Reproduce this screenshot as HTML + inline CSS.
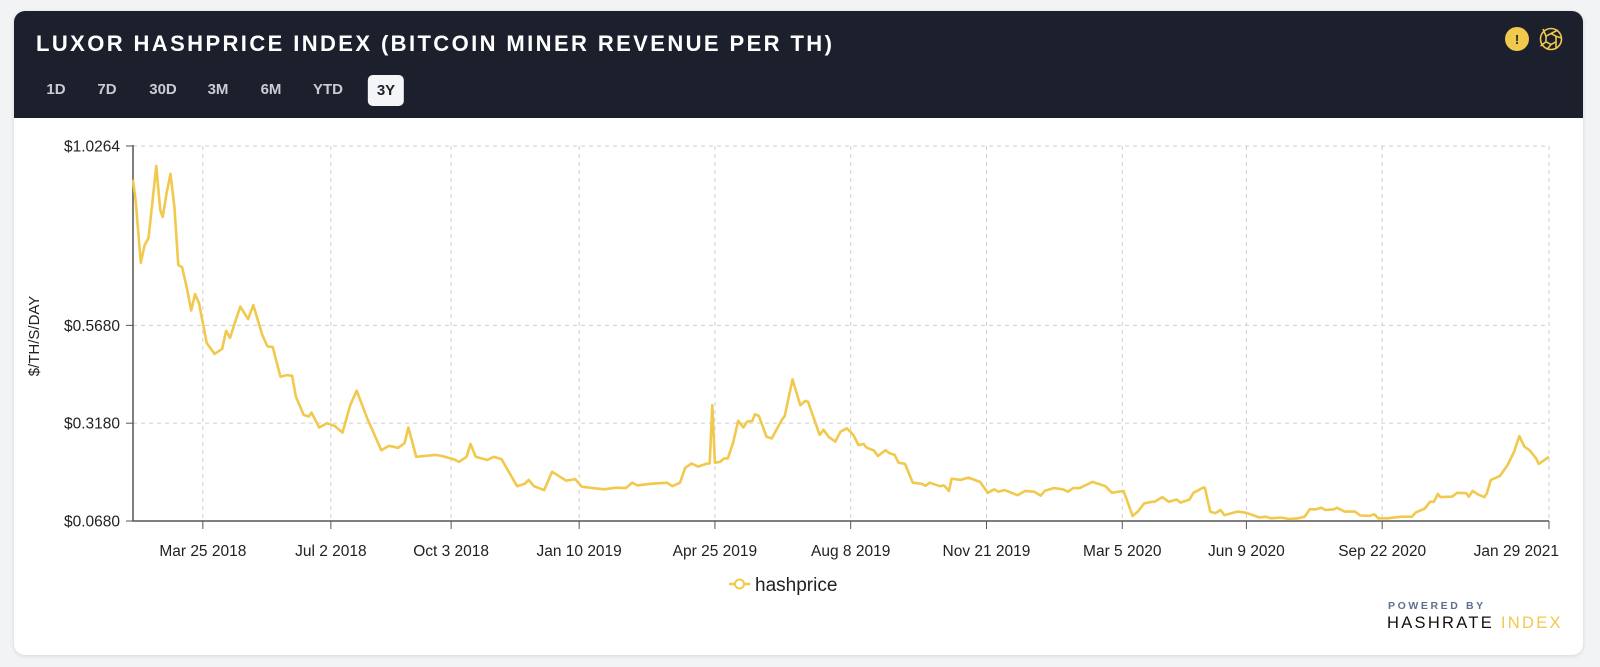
<!DOCTYPE html>
<html><head><meta charset="utf-8">
<style>
body{margin:0;width:1600px;height:667px;background:#f2f3f5;font-family:"Liberation Sans",sans-serif;overflow:hidden;position:relative}
.card{position:absolute;left:14px;top:11px;width:1569px;height:644px;background:#fff;border-radius:11px;box-shadow:0 1px 4px rgba(0,0,0,.12);overflow:hidden}
.hdr{position:absolute;left:0;top:0;width:1569px;height:107px;background:#1b202c}
.title{position:absolute;left:22px;top:20px;color:#fff;font-weight:bold;font-size:22px;letter-spacing:2.4px;white-space:nowrap}
.btn{position:absolute;top:70px;color:#c9cdd6;font-weight:bold;font-size:15px;transform:translateX(-50%)}
.btn.on{background:#f4f5f7;color:#1b202c;border-radius:5px;padding:7px 9px;top:64px}
</style></head><body>
<div class="card">
 <div class="hdr">
  <div class="title">LUXOR HASHPRICE INDEX (BITCOIN MINER REVENUE PER TH)</div>
  <div class="btn" style="left:42px">1D</div>
  <div class="btn" style="left:93px">7D</div>
  <div class="btn" style="left:149px">30D</div>
  <div class="btn" style="left:204px">3M</div>
  <div class="btn" style="left:257px">6M</div>
  <div class="btn" style="left:314px">YTD</div>
  <div class="btn on" style="left:372px">3Y</div>
  <svg style="position:absolute;left:1489px;top:14px" width="76" height="30">
   <g><circle cx="14" cy="14" r="12" fill="#f0c94d"/><text x="14" y="19" text-anchor="middle" font-size="13" font-weight="bold" fill="#1b202c" font-family="Liberation Sans">!</text></g>
   <g fill="none" stroke="#f0c94d" stroke-width="1.6"><circle cx="48" cy="14" r="10.5"/><polygon points="48,8.5 53,11.2 53,16.8 48,19.5 43,16.8 43,11.2"/><line x1="48" y1="8.5" x2="55" y2="5"/><line x1="53" y1="16.8" x2="53" y2="24"/><line x1="43" y1="16.8" x2="37.5" y2="21"/><line x1="43" y1="11.2" x2="40" y2="4"/><line x1="53" y1="11.2" x2="58.5" y2="13"/><line x1="48" y1="19.5" x2="44" y2="24.5"/></g>
  </svg>
 </div>
</div>
<svg id="chart" width="1600" height="667" style="position:absolute;left:0;top:0"></svg>
<div style="position:absolute;left:1388px;top:600px;font-size:10.5px;letter-spacing:2.6px;color:#5f6f8e;font-weight:bold">POWERED BY</div>
<div style="position:absolute;left:1387px;top:614px;font-size:16.5px;letter-spacing:2.3px;color:#111;white-space:nowrap">HASHRATE <span style="color:#f0c94d">INDEX</span></div>
<script>
const days=[0,2,6,9,12,18,21,23,26,29,32,35,38,42,45,48,51,57,63,69,72,75,79,83,89,93,100,104,108,114,119,123,126,132,136,138,144,150,156,162,168,173,181,192,198,205,210,213,219,225,234,239,248,252,258,261,265,274,279,285,289,297,303,306,310,318,324,335,342,347,353,364,374,381,386,390,400,413,417,423,427,432,437,444,446,448,450,454,457,460,464,468,472,475,479,481,484,490,494,502,504,510,516,520,522,531,534,538,543,547,552,557,561,565,567,573,576,582,585,589,592,597,603,610,613,616,624,627,631,633,640,646,655,661,666,669,674,684,690,697,702,705,712,719,723,727,732,742,752,757,766,773,777,782,788,790,796,801,807,810,817,820,828,829,833,837,841,844,854,861,871,876,880,888,894,901,906,910,915,919,922,929,931,937,945,949,956,960,963,970,981,989,992,999,1003,1006,1009,1011,1020,1024,1031,1033,1036,1040,1045,1047,1050,1057,1063,1068,1072,1076,1080,1085,1087,1095];
const values=[0.940,0.888,0.728,0.773,0.791,0.975,0.863,0.845,0.906,0.955,0.871,0.722,0.717,0.658,0.606,0.648,0.625,0.523,0.495,0.508,0.554,0.536,0.577,0.616,0.584,0.620,0.543,0.514,0.513,0.437,0.441,0.439,0.386,0.339,0.335,0.345,0.307,0.318,0.311,0.294,0.364,0.401,0.331,0.249,0.260,0.255,0.267,0.307,0.232,0.234,0.237,0.234,0.226,0.219,0.232,0.265,0.232,0.224,0.232,0.226,0.203,0.157,0.163,0.173,0.157,0.147,0.194,0.171,0.175,0.156,0.153,0.149,0.153,0.152,0.166,0.159,0.163,0.166,0.157,0.166,0.204,0.215,0.207,0.215,0.215,0.364,0.217,0.219,0.228,0.228,0.267,0.324,0.307,0.322,0.324,0.341,0.336,0.283,0.279,0.328,0.336,0.430,0.364,0.375,0.373,0.288,0.301,0.283,0.271,0.296,0.305,0.288,0.262,0.265,0.256,0.248,0.234,0.249,0.241,0.237,0.217,0.214,0.166,0.163,0.158,0.166,0.157,0.159,0.145,0.176,0.173,0.179,0.168,0.140,0.149,0.143,0.147,0.134,0.145,0.143,0.133,0.145,0.152,0.149,0.143,0.152,0.152,0.168,0.157,0.140,0.145,0.081,0.092,0.113,0.117,0.117,0.129,0.117,0.123,0.115,0.123,0.140,0.154,0.152,0.092,0.088,0.096,0.083,0.092,0.089,0.077,0.079,0.075,0.077,0.073,0.075,0.079,0.098,0.098,0.102,0.096,0.098,0.102,0.092,0.092,0.082,0.081,0.085,0.075,0.075,0.079,0.079,0.090,0.100,0.117,0.117,0.137,0.129,0.130,0.140,0.139,0.130,0.145,0.136,0.129,0.139,0.173,0.183,0.211,0.245,0.285,0.258,0.249,0.228,0.214,0.232];
const yTicks=[0.068,0.318,0.568,1.0264];
const yTickLabels=["$0.0680","$0.3180","$0.5680","$1.0264"];
const xTickDays=[54,153,246,345,450,555,660,765,861,966,1095];
const xTickLabels=["Mar 25 2018","Jul 2 2018","Oct 3 2018","Jan 10 2019","Apr 25 2019","Aug 8 2019","Nov 21 2019","Mar 5 2020","Jun 9 2020","Sep 22 2020","Jan 29 2021"];
const X0=133,X1=1549,Y0=521,Y1=146,DMAX=1095,VMIN=0.068,VMAX=1.0264;
const xs=d=>X0+(d/DMAX)*(X1-X0);
const ys=v=>Y0-(v-VMIN)/(VMAX-VMIN)*(Y0-Y1);
const svg=document.getElementById('chart');const NS='http://www.w3.org/2000/svg';
function mk(t,a,p){const e=document.createElementNS(NS,t);for(const k in a)e.setAttribute(k,a[k]);(p||svg).appendChild(e);return e;}
yTicks.forEach((v,i)=>{const y=ys(v);
 if(i>0){const g=mk('line',{x1:X0,x2:X1,y1:y,y2:y,stroke:'#cfcfcf','stroke-dasharray':'4,4'});
 
 }
 const tk=mk('line',{x1:X0-7,x2:X0,y1:y,y2:y,stroke:'#555'});
 
 
 const t=mk('text',{x:X0-13,y:y+5.5,'text-anchor':'end','font-size':'15.5','fill':'#222','font-family':'Liberation Sans'});t.textContent=yTickLabels[i];
 
 });
xTickDays.forEach((d,i)=>{const x=xs(d);
 const g=mk('line',{x1:x,x2:x,y1:Y1,y2:Y0,stroke:'#cfcfcf','stroke-dasharray':'4,4'});
 
 
 const tk=mk('line',{x1:x,x2:x,y1:Y0,y2:Y0+8,stroke:'#555'});
 
 
 const t=mk('text',{x:i==xTickDays.length-1?x+10:x,y:556,'text-anchor':i==xTickDays.length-1?'end':'middle','font-size':'15.5','fill':'#222','font-family':'Liberation Sans'});t.textContent=xTickLabels[i];
 
 });
const ax=mk('path',{d:`M${X0} ${Y1-1}V${Y0}H${X1}`,fill:'none',stroke:'#555','stroke-width':1.5});


let d='';days.forEach((dd,i)=>{d+=(i?'L':'M')+xs(dd).toFixed(1)+' '+ys(values[i]).toFixed(1);});
const ln=mk('path',{d:d,fill:'none',stroke:'#f0c94d','stroke-width':2.6,'stroke-linejoin':'round'});


const yt=mk('text',{x:0,y:0,transform:'translate(39,336) rotate(-90)','text-anchor':'middle','font-size':'15','fill':'#222','font-family':'Liberation Sans'});yt.textContent='$/TH/S/DAY';


const lg=mk('g',{});


mk('line',{x1:729,x2:750,y1:584,y2:584,stroke:'#f0c94d','stroke-width':2.5},lg);
mk('circle',{cx:739.5,cy:584,r:4.5,fill:'#fff',stroke:'#f0c94d','stroke-width':2},lg);
const lt=mk('text',{x:755,y:591,'font-size':'19','fill':'#222','font-family':'Liberation Sans'},lg);lt.textContent='hashprice';
</script>
</body></html>
